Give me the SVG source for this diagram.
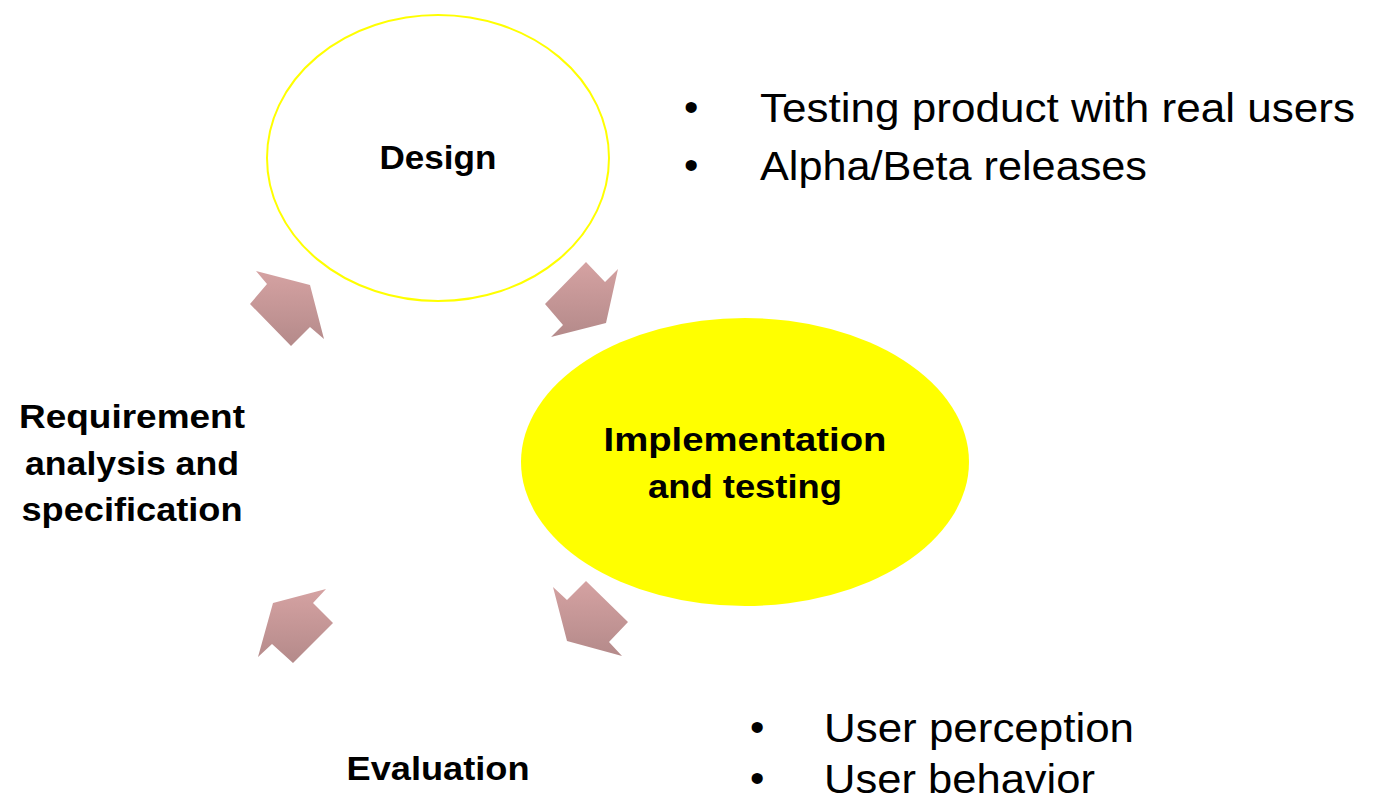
<svg xmlns="http://www.w3.org/2000/svg" width="1376" height="802" viewBox="0 0 1376 802">
<defs>
<linearGradient id="ag" x1="0" y1="0" x2="0" y2="1">
<stop offset="0" stop-color="#d5a2a2"/>
<stop offset="1" stop-color="#b48a8a"/>
</linearGradient>
<style>
.b{font-family:"Liberation Sans",Arial,sans-serif;font-weight:bold;font-size:33px;fill:#000;text-anchor:middle}
.n{font-family:"Liberation Sans",Arial,sans-serif;font-size:41px;fill:#000}
.arr{fill:url(#ag)}
</style>
</defs>
<rect width="1376" height="802" fill="#fff"/>
<g id="design">
<ellipse cx="438" cy="158" rx="171" ry="143" fill="#fff" stroke="#ffff00" stroke-width="2"/>
<text class="b" x="438" y="169" textLength="117" lengthAdjust="spacingAndGlyphs">Design</text>
</g>
<g id="implementation">
<ellipse cx="745" cy="462" rx="224" ry="144" fill="#ffff00"/>
<text class="b" x="745" y="451" textLength="283" lengthAdjust="spacingAndGlyphs">Implementation</text>
<text class="b" x="745" y="498" textLength="194" lengthAdjust="spacingAndGlyphs">and testing</text>
</g>
<g id="requirement">
<text class="b" x="132" y="428" textLength="226" lengthAdjust="spacingAndGlyphs">Requirement</text>
<text class="b" x="132" y="475" textLength="214" lengthAdjust="spacingAndGlyphs">analysis and</text>
<text class="b" x="132" y="521" textLength="221" lengthAdjust="spacingAndGlyphs">specification</text>
</g>
<g id="evaluation">
<text class="b" x="438" y="780" textLength="183" lengthAdjust="spacingAndGlyphs">Evaluation</text>
</g>
<g id="notes-top">
<text class="n" x="684" y="121">•</text>
<text class="n" x="760" y="122" textLength="595" lengthAdjust="spacingAndGlyphs">Testing product with real users</text>
<text class="n" x="684" y="179">•</text>
<text class="n" x="760" y="180" textLength="387" lengthAdjust="spacingAndGlyphs">Alpha/Beta releases</text>
</g>
<g id="notes-bottom">
<text class="n" x="750" y="741">•</text>
<text class="n" x="824" y="742" textLength="310" lengthAdjust="spacingAndGlyphs">User perception</text>
<text class="n" x="750" y="792">•</text>
<text class="n" x="824" y="793" textLength="271" lengthAdjust="spacingAndGlyphs">User behavior</text>
</g>
<g id="connectors">
<polygon class="arr" points="256,271 310,285 324,339 310,327 291,346 250,304 267,284"/>
<polygon class="arr" points="586,262 605,282 618,269 606,323 551,337 563,325 545,304"/>
<polygon class="arr" points="553,587 567,600 586,581 628,622 609,642 622,656 567,641"/>
<polygon class="arr" points="326,589 313,603 333,623 293,663 272,644 258,657 273,603"/>
</g>
</svg>
